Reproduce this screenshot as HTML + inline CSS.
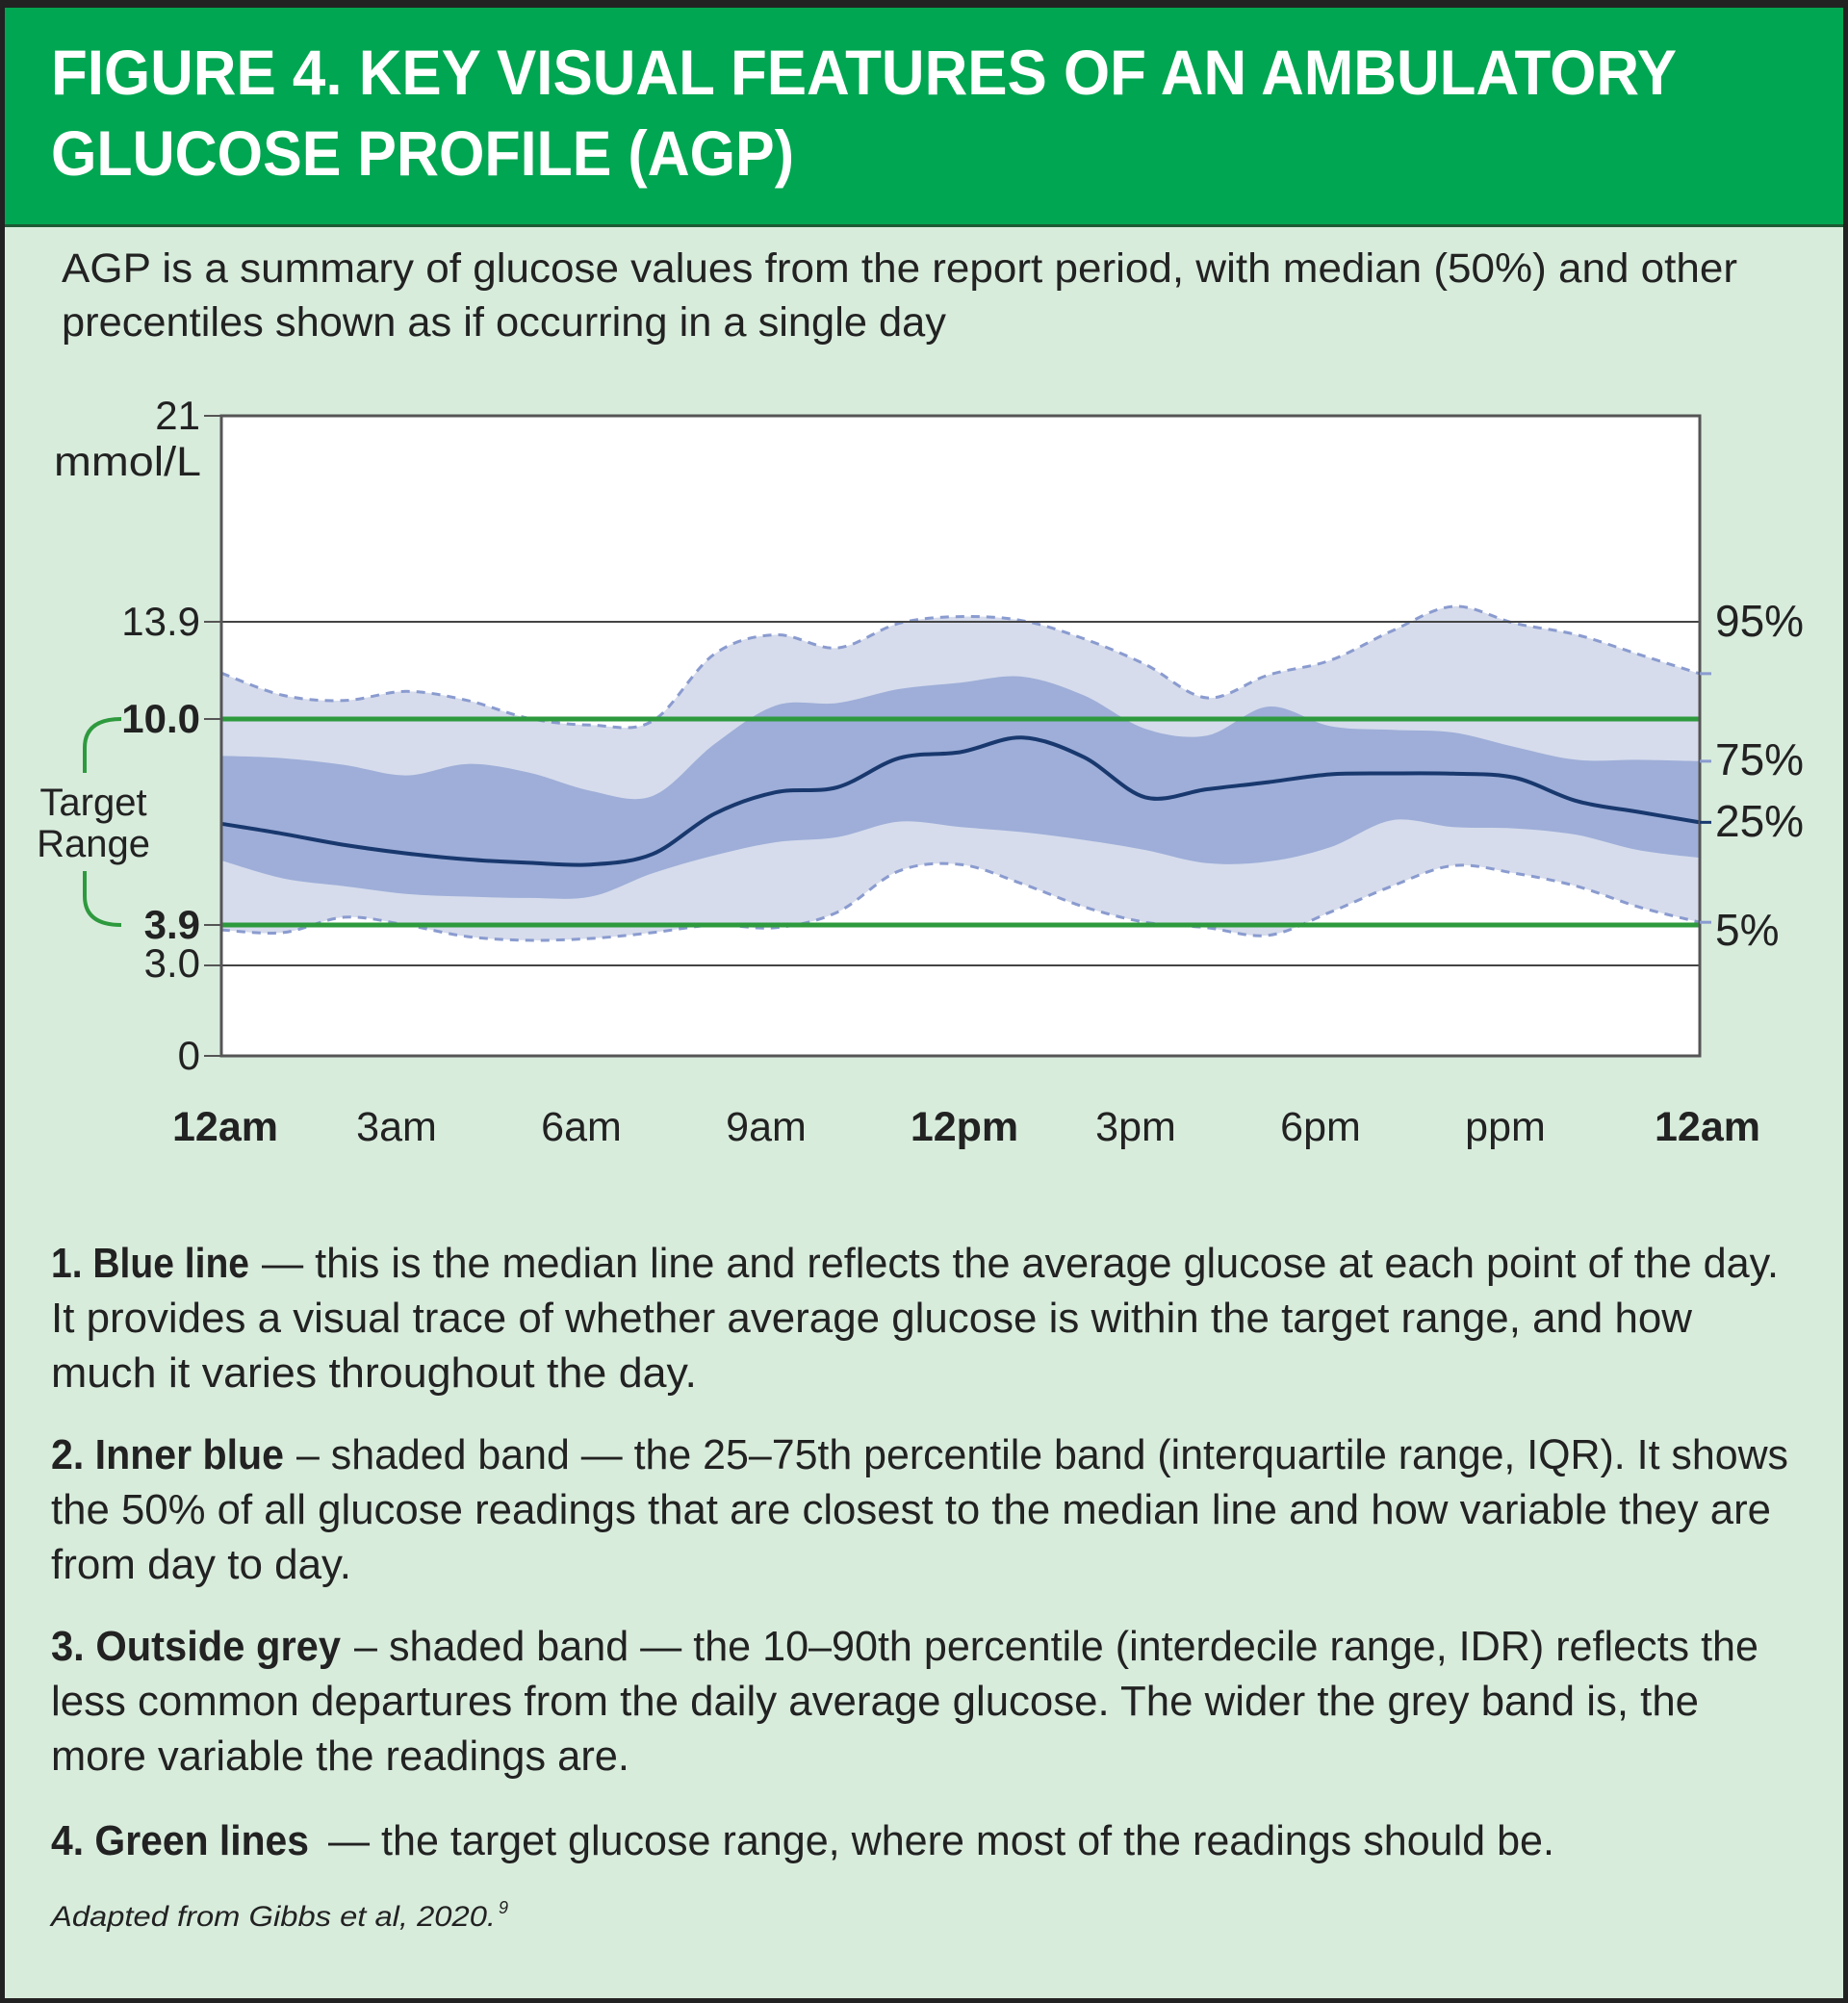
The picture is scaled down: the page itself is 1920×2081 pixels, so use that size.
<!DOCTYPE html>
<html><head><meta charset="utf-8"><title>AGP figure</title>
<style>
html,body{margin:0;padding:0;background:#d8ecdc;}
svg{display:block;}
text{font-family:"Liberation Sans",sans-serif;}
</style></head>
<body>
<svg id="fig" width="1920" height="2081" viewBox="0 0 1920 2081" xmlns="http://www.w3.org/2000/svg">
  <rect x="0" y="0" width="1920" height="2081" fill="#d8ecdc"/>
  <rect x="0" y="0" width="1920" height="8" fill="#222"/>
  <rect x="0" y="8" width="1920" height="226" fill="#00a651"/>
  <rect x="0" y="233" width="1920" height="3" fill="#1d5a33"/>
  <rect x="0" y="0" width="5" height="2081" fill="#222"/>
  <rect x="1915" y="0" width="5" height="2081" fill="#222"/>
  <rect x="0" y="2076" width="1920" height="5" fill="#222"/>

  <text x="53" y="98" font-size="66" font-weight="bold" fill="#fff" textLength="1689" lengthAdjust="spacingAndGlyphs">FIGURE 4. KEY VISUAL FEATURES OF AN AMBULATORY</text>
  <text x="53" y="182" font-size="66" font-weight="bold" fill="#fff" textLength="772" lengthAdjust="spacingAndGlyphs">GLUCOSE PROFILE (AGP)</text>

  <text x="64" y="293" font-size="43" fill="#222" textLength="1741" lengthAdjust="spacingAndGlyphs">AGP is a summary of glucose values from the report period, with median (50%) and other</text>
  <text x="64" y="349" font-size="43" fill="#222" textLength="919" lengthAdjust="spacingAndGlyphs">precentiles shown as if occurring in a single day</text>

  <g id="chart"></g>

  <g fill="#222" font-size="44">
    <text x="53" y="1327" font-weight="bold" textLength="206" lengthAdjust="spacingAndGlyphs">1. Blue line</text>
    <text x="272" y="1327" textLength="1576" lengthAdjust="spacingAndGlyphs">— this is the median line and reflects the average glucose at each point of the day.</text>
    <text x="53" y="1384" textLength="1705" lengthAdjust="spacingAndGlyphs">It provides a visual trace of whether average glucose is within the target range, and how</text>
    <text x="53" y="1441" textLength="671" lengthAdjust="spacingAndGlyphs">much it varies throughout the day.</text>

    <text x="53" y="1526" font-weight="bold" textLength="242" lengthAdjust="spacingAndGlyphs">2. Inner blue</text>
    <text x="308" y="1526" textLength="1550" lengthAdjust="spacingAndGlyphs">– shaded band — the 25–75th percentile band (interquartile range, IQR). It shows</text>
    <text x="53" y="1583" textLength="1787" lengthAdjust="spacingAndGlyphs">the 50% of all glucose readings that are closest to the median line and how variable they are</text>
    <text x="53" y="1640" textLength="312" lengthAdjust="spacingAndGlyphs">from day to day.</text>

    <text x="53" y="1725" font-weight="bold" textLength="301" lengthAdjust="spacingAndGlyphs">3. Outside grey</text>
    <text x="368" y="1725" textLength="1459" lengthAdjust="spacingAndGlyphs">– shaded band — the 10–90th percentile (interdecile range, IDR) reflects the</text>
    <text x="53" y="1782" textLength="1712" lengthAdjust="spacingAndGlyphs">less common departures from the daily average glucose. The wider the grey band is, the</text>
    <text x="53" y="1839" textLength="601" lengthAdjust="spacingAndGlyphs">more variable the readings are.</text>

    <text x="53" y="1927" font-weight="bold" textLength="268" lengthAdjust="spacingAndGlyphs">4. Green lines</text>
    <text x="341" y="1927" textLength="1274" lengthAdjust="spacingAndGlyphs">— the target glucose range, where most of the readings should be.</text>

    <text x="53" y="2001" font-size="30" font-style="italic" textLength="462" lengthAdjust="spacingAndGlyphs">Adapted from Gibbs et al, 2020.</text>
    <text x="518" y="1988" font-size="18" font-style="italic">9</text>
  </g>
</svg>
<script>
// ---- chart data ----
const hours = [0,1,2,3,4,5,6,7,8,9,10,11,12,13,14,15,16,17,18,19,20,21,22,23,24];
const median = [6.9,6.6,6.27,6.02,5.84,5.74,5.69,6.0,7.19,7.83,7.98,8.84,9.02,9.45,8.87,7.68,7.92,8.13,8.36,8.39,8.38,8.26,7.57,7.25,6.94];
const p75 = [8.91,8.84,8.64,8.33,8.67,8.41,7.87,7.72,9.25,10.54,10.64,11.2,11.46,11.7,10.95,9.71,9.51,10.5,9.79,9.68,9.6,9.17,8.79,8.79,8.75];
const p25 = [5.81,5.28,5.05,4.82,4.74,4.7,4.74,5.43,5.96,6.35,6.5,6.96,6.8,6.65,6.42,6.12,5.73,5.78,6.2,7.0,6.8,6.76,6.57,6.12,5.89];
const p95 = [11.84,10.95,10.74,11.11,10.74,10.02,9.82,9.94,12.6,13.38,12.85,13.84,14.08,13.94,13.22,12.19,10.85,11.77,12.35,13.53,14.43,13.84,13.38,12.6,11.82];
const p5 = [3.79,3.73,4.13,3.9,3.64,3.56,3.6,3.73,3.9,3.84,4.28,5.5,5.69,5.12,4.44,3.98,3.84,3.67,4.28,5.05,5.66,5.43,5.05,4.44,3.98];
const yTickValues = [0,3.0,3.9,10.0,13.9,21];
const yTickLabels = ['0','3.0','3.9','10.0','13.9','21'];
const xTickHours = [0,3,6,9,12,15,18,21,24];
const xTickLabels = ['12am','3am','6am','9am','12pm','3pm','6pm','ppm','12am'];
const targetRange = [3.9,10.0];

// ---- layout ----
const NS = 'http://www.w3.org/2000/svg';
const L = 230, R = 1766, T = 432, B = 1097;
const axisBreakPx = [1097,1003,961,747,646,432]; // nonlinear axis breakpoints (layout)
function xS(h){ return L + (h/24)*(R-L); }
function yS(v){
  for(let i=0;i<yTickValues.length-1;i++){
    const a=yTickValues[i], b=yTickValues[i+1];
    if(v<=b || i===yTickValues.length-2){
      return axisBreakPx[i] + (v-a)/(b-a)*(axisBreakPx[i+1]-axisBreakPx[i]);
    }
  }
}
function pts(arr){ return hours.map((h,i)=>[xS(h), yS(arr[i])]); }
function smooth(p, moveFirst){
  let d = (moveFirst?'M':'L') + p[0][0].toFixed(1)+','+p[0][1].toFixed(1);
  for(let i=0;i<p.length-1;i++){
    const p0=p[Math.max(0,i-1)], p1=p[i], p2=p[i+1], p3=p[Math.min(p.length-1,i+2)];
    const c1=[p1[0]+(p2[0]-p0[0])/6, p1[1]+(p2[1]-p0[1])/6];
    const c2=[p2[0]-(p3[0]-p1[0])/6, p2[1]-(p3[1]-p1[1])/6];
    d+=' C'+c1[0].toFixed(1)+','+c1[1].toFixed(1)+' '+c2[0].toFixed(1)+','+c2[1].toFixed(1)+' '+p2[0].toFixed(1)+','+p2[1].toFixed(1);
  }
  return d;
}
function band(upper, lower){
  return smooth(pts(upper), true) + ' ' + smooth(pts(lower).reverse(), false) + ' Z';
}
const g = document.getElementById('chart');
function mk(tag, attrs){ const e=document.createElementNS(NS,tag); for(const k in attrs) e.setAttribute(k, attrs[k]); g.appendChild(e); return e; }

let e;
e = mk('rect',{x:L,y:T,width:R-L,height:B-T,fill:'#fff'});



e = mk('path',{d:band(p95,p5),fill:'#d6dcec'});


e = mk('path',{d:band(p75,p25),fill:'#9eaed8'});


e = mk('path',{d:smooth(pts(p95),true),fill:'none',stroke:'#8a9bcf','stroke-width':3,'stroke-dasharray':'9 7'});


e = mk('path',{d:smooth(pts(p5),true),fill:'none',stroke:'#8a9bcf','stroke-width':3,'stroke-dasharray':'9 7'});



[13.9,3.0].forEach(v=>{
  const el = mk('line',{x1:L,x2:R,y1:yS(v),y2:yS(v),stroke:'#444','stroke-width':2});
  
  
});
targetRange.forEach(v=>{
  const el = mk('line',{x1:L,x2:R,y1:yS(v),y2:yS(v),stroke:'#2e9a3e','stroke-width':5});
  
  
});

e = mk('path',{d:smooth(pts(median),true),fill:'none',stroke:'#18386e','stroke-width':4});



e = mk('rect',{x:L,y:T,width:R-L,height:B-T,fill:'none',stroke:'#555','stroke-width':3});



yTickValues.forEach((v,i)=>{
  const y=yS(v);
  const tk = mk('line',{x1:L-18,x2:L,y1:y,y2:y,stroke:'#555','stroke-width':2});
  
  
  const bold = (v===3.9||v===10.0);
  const dy = (v===3.0) ? 12 : 14;
  const t = mk('text',{x:208,y:y+dy,'font-size':42,'text-anchor':'end',fill:'#222','font-weight':bold?'bold':'normal'});
  t.textContent = yTickLabels[i];
  
  
});
e = mk('text',{x:56,y:494,'font-size':43,fill:'#222',textLength:153,lengthAdjust:'spacingAndGlyphs'});
e.textContent='mmol/L';



xTickHours.forEach((h,i)=>{
  const bold = (h%12===0);
  const off = bold ? (i===xTickHours.length-1?8:4) : -10;
  const t = mk('text',{x:xS(h)+off,y:1185,'font-size':43,'text-anchor':'middle',fill:'#222','font-weight':bold?'bold':'normal'});
  t.textContent = xTickLabels[i];
  
  
});

const rightLabels = [['95%',p95,661],['75%',p75,805],['25%',median,869],['5%',p5,982]];
rightLabels.forEach(r=>{
  const y = yS(r[1][r[1].length-1]);
  const tk = mk('line',{x1:R,x2:R+12,y1:y,y2:y,stroke:r[0]==='25%'?'#18386e':'#8a9bcf','stroke-width':3});
  
  
  const t = mk('text',{x:1782,y:r[2],'font-size':46,fill:'#222'});
  t.textContent=r[0];
  
  
});

const yTop=yS(targetRange[1]), yBot=yS(targetRange[0]);
e = mk('path',{d:'M126,'+yTop+' Q88,'+yTop+' 88,'+(yTop+30)+' L88,'+(yTop+56)+' M88,'+(yBot-56)+' L88,'+(yBot-30)+' Q88,'+yBot+' 126,'+yBot,fill:'none',stroke:'#2e9a3e','stroke-width':4});


e = mk('text',{x:97,y:847,'font-size':40,'text-anchor':'middle',fill:'#222'});
e.textContent='Target';


e = mk('text',{x:97,y:890,'font-size':40,'text-anchor':'middle',fill:'#222'});
e.textContent='Range';


</script>
</body></html>
